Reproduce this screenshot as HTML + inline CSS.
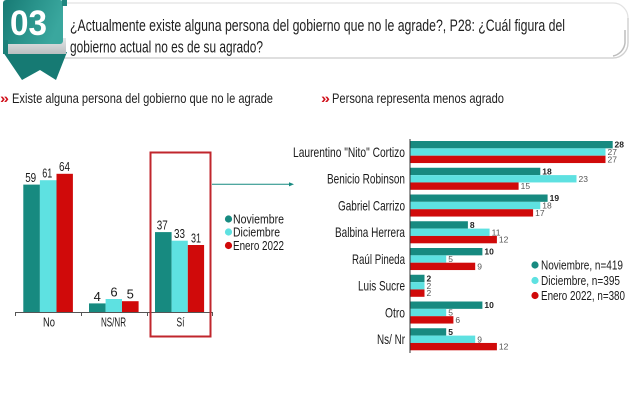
<!DOCTYPE html>
<html>
<head>
<meta charset="utf-8">
<style>
  html,body{margin:0;padding:0;background:#fff;}
  svg{display:block;}
  text{font-family:"Liberation Sans Narrow","Liberation Sans",sans-serif;}
</style>
</head>
<body>
<svg width="630" height="400" viewBox="0 0 630 400" xmlns="http://www.w3.org/2000/svg">
  <defs>
    <linearGradient id="bg1" x1="0" y1="0" x2="1" y2="0.3">
      <stop offset="0" stop-color="#177a74"/>
      <stop offset="0.55" stop-color="#2a948c"/>
      <stop offset="1" stop-color="#3aa79e"/>
    </linearGradient>
    <linearGradient id="gray1" x1="0" y1="0" x2="0" y2="1">
      <stop offset="0" stop-color="#e3e6e7"/>
      <stop offset="1" stop-color="#b9bec0"/>
    </linearGradient>
  </defs>
  <rect width="630" height="400" fill="#fff"/>

  <!-- Title box -->
  <path d="M 60 3 H 613 A 15 15 0 0 1 628 18 V 43 A 15 15 0 0 1 613 58 H 60" fill="none" stroke="#e2e2e2" stroke-width="1.2"/>
  <path d="M 60 58 H 613 A 15 15 0 0 0 628 43 V 18" fill="none" stroke="#d0d0d0" stroke-width="1.3"/>
  <path d="M 625 30 V 43 A 15 15 0 0 1 613 56" fill="none" stroke="#bdbdbd" stroke-width="1.5"/>

  <!-- Badge -->
  <polygon points="3,52 67,52 56,80 40,70 22,80" fill="#167a73"/>
  <rect x="5" y="38" width="61" height="16" fill="url(#gray1)"/>
  <rect x="3" y="0" width="60" height="44" rx="3" fill="url(#bg1)"/>
  <polygon points="62,0 67,0 67,6 62,6" fill="#1f867f"/>
  <rect x="3" y="40" width="5" height="14" fill="#1c8079"/>
  <text x="10" y="35" font-size="35" font-weight="bold" fill="#fff" textLength="37" lengthAdjust="spacingAndGlyphs">03</text>

  <!-- Title text -->
  <text x="70" y="31" font-size="17" fill="#1e1e1e" textLength="495" lengthAdjust="spacingAndGlyphs">¿Actualmente existe alguna persona del gobierno que no le agrade?, P28: ¿Cuál figura del</text>
  <text x="70" y="52.5" font-size="17" fill="#1e1e1e" textLength="193" lengthAdjust="spacingAndGlyphs">gobierno actual no es de su agrado?</text>

  <!-- Subtitles -->
  <text x="0" y="103" font-size="14" font-weight="bold" fill="#d0101b" textLength="9" lengthAdjust="spacingAndGlyphs">»</text>
  <text x="12" y="103" font-size="14" fill="#1e1e1e" textLength="261" lengthAdjust="spacingAndGlyphs">Existe alguna persona del gobierno que no le agrade</text>
  <text x="321" y="103" font-size="14" font-weight="bold" fill="#d0101b" textLength="9" lengthAdjust="spacingAndGlyphs">»</text>
  <text x="332" y="103" font-size="14" fill="#1e1e1e" textLength="172" lengthAdjust="spacingAndGlyphs">Persona representa menos agrado</text>

  <!-- LEFT CHART -->
  <g>
    <rect x="23.3" y="184.6" width="16.6" height="127.4" fill="#178a80"/>
    <rect x="39.9" y="180.2" width="16.6" height="131.8" fill="#5ee1e1"/>
    <rect x="56.5" y="173.8" width="16.4" height="138.2" fill="#d00a0a"/>
    <rect x="89" y="303.4" width="16.6" height="8.6" fill="#178a80"/>
    <rect x="105.6" y="299" width="16.4" height="13" fill="#5ee1e1"/>
    <rect x="122" y="301.2" width="16.6" height="10.8" fill="#d00a0a"/>
    <rect x="155" y="232.1" width="16.6" height="79.9" fill="#178a80"/>
    <rect x="171.6" y="240.7" width="16.2" height="71.3" fill="#5ee1e1"/>
    <rect x="187.8" y="245" width="16.3" height="67" fill="#d00a0a"/>
  </g>
  <g font-size="13" fill="#1a1a1a" text-anchor="middle">
    <text x="30.7" y="182" textLength="11" lengthAdjust="spacingAndGlyphs">59</text>
    <text x="47.3" y="177.6" textLength="10" lengthAdjust="spacingAndGlyphs">61</text>
    <text x="64.5" y="171.2" textLength="11" lengthAdjust="spacingAndGlyphs">64</text>
    <text x="97.3" y="300.8">4</text>
    <text x="114" y="296.4">6</text>
    <text x="130.3" y="298.6">5</text>
    <text x="162.3" y="229.5" textLength="11" lengthAdjust="spacingAndGlyphs">37</text>
    <text x="179.5" y="238.1" textLength="11" lengthAdjust="spacingAndGlyphs">33</text>
    <text x="196" y="242.4" textLength="10" lengthAdjust="spacingAndGlyphs">31</text>
  </g>
  <line x1="15" y1="312.5" x2="213" y2="312.5" stroke="#555" stroke-width="1"/>
  <g stroke="#555" stroke-width="1">
    <line x1="15.5" y1="312" x2="15.5" y2="316"/>
    <line x1="81.5" y1="312" x2="81.5" y2="316"/>
    <line x1="147.5" y1="312" x2="147.5" y2="316"/>
    <line x1="212.5" y1="312" x2="212.5" y2="316"/>
  </g>
  <g font-size="12.5" fill="#1a1a1a" text-anchor="middle">
    <text x="49" y="326.5" textLength="12" lengthAdjust="spacingAndGlyphs">No</text>
    <text x="113.5" y="326.5" textLength="25" lengthAdjust="spacingAndGlyphs">NS/NR</text>
    <text x="180.5" y="326.5" textLength="8" lengthAdjust="spacingAndGlyphs">Sí</text>
  </g>
  <rect x="150.5" y="152.5" width="60" height="184" fill="none" stroke="#c0262c" stroke-width="2"/>

  <!-- arrow -->
  <line x1="212" y1="184.3" x2="291" y2="184.3" stroke="#178a80" stroke-width="1"/>
  <polygon points="289,182.2 294,184.3 289,186.4" fill="#178a80"/>

  <!-- left legend -->
  <circle cx="228.5" cy="219" r="3.6" fill="#178a80"/>
  <circle cx="228.5" cy="232" r="3.6" fill="#5ee1e1"/>
  <circle cx="228.5" cy="245.5" r="3.6" fill="#d00a0a"/>
  <g font-size="13" fill="#1a1a1a">
    <text x="233" y="223.5" textLength="51" lengthAdjust="spacingAndGlyphs">Noviembre</text>
    <text x="233" y="236.5" textLength="47" lengthAdjust="spacingAndGlyphs">Diciembre</text>
    <text x="233" y="250" textLength="51" lengthAdjust="spacingAndGlyphs">Enero 2022</text>
  </g>

  <!-- RIGHT CHART -->
  <g>
    <rect x="410" y="141" width="202.7" height="7.35" fill="#178a80"/>
    <rect x="410" y="148.35" width="195.5" height="7.35" fill="#5ee1e1"/>
    <rect x="410" y="155.7" width="195.5" height="7.35" fill="#d00a0a"/>
    <rect x="410" y="167.75" width="130.3" height="7.35" fill="#178a80"/>
    <rect x="410" y="175.1" width="166.5" height="7.35" fill="#5ee1e1"/>
    <rect x="410" y="182.45" width="108.6" height="7.35" fill="#d00a0a"/>
    <rect x="410" y="194.5" width="137.6" height="7.35" fill="#178a80"/>
    <rect x="410" y="201.85" width="130.3" height="7.35" fill="#5ee1e1"/>
    <rect x="410" y="209.2" width="123.1" height="7.35" fill="#d00a0a"/>
    <rect x="410" y="221.25" width="57.9" height="7.35" fill="#178a80"/>
    <rect x="410" y="228.6" width="79.6" height="7.35" fill="#5ee1e1"/>
    <rect x="410" y="235.95" width="86.9" height="7.35" fill="#d00a0a"/>
    <rect x="410" y="248" width="72.4" height="7.35" fill="#178a80"/>
    <rect x="410" y="255.35" width="36.2" height="7.35" fill="#5ee1e1"/>
    <rect x="410" y="262.7" width="65.2" height="7.35" fill="#d00a0a"/>
    <rect x="410" y="274.75" width="14.5" height="7.35" fill="#178a80"/>
    <rect x="410" y="282.1" width="14.5" height="7.35" fill="#5ee1e1"/>
    <rect x="410" y="289.45" width="14.5" height="7.35" fill="#d00a0a"/>
    <rect x="410" y="301.5" width="72.4" height="7.35" fill="#178a80"/>
    <rect x="410" y="308.85" width="36.2" height="7.35" fill="#5ee1e1"/>
    <rect x="410" y="316.2" width="43.4" height="7.35" fill="#d00a0a"/>
    <rect x="410" y="328.25" width="36.2" height="7.35" fill="#178a80"/>
    <rect x="410" y="335.6" width="65.2" height="7.35" fill="#5ee1e1"/>
    <rect x="410" y="342.95" width="86.9" height="7.35" fill="#d00a0a"/>
  </g>
  <line x1="410" y1="139" x2="410" y2="353" stroke="#333" stroke-width="1"/>

  <!-- value labels right -->
  <g font-size="8.5" font-family="Liberation Sans, sans-serif">
    <g font-weight="bold" fill="#222">
      <text x="614.5" y="147.7">28</text>
      <text x="542.3" y="174.4">18</text>
      <text x="549.6" y="201.2">19</text>
      <text x="469.9" y="227.9">8</text>
      <text x="484.4" y="254.7">10</text>
      <text x="426.5" y="281.4">2</text>
      <text x="484.4" y="308.2">10</text>
      <text x="448.2" y="334.9">5</text>
    </g>
    <g fill="#555">
      <text x="607.5" y="155">27</text>
      <text x="578.5" y="181.8">23</text>
      <text x="542.3" y="208.5">18</text>
      <text x="491.6" y="235.3">11</text>
      <text x="448.2" y="262">5</text>
      <text x="426.5" y="288.8">2</text>
      <text x="448.2" y="315.5">5</text>
      <text x="477.2" y="342.3">9</text>
    </g>
    <g fill="#555">
      <text x="607.5" y="162.4">27</text>
      <text x="520.6" y="189.1">15</text>
      <text x="535.1" y="215.9">17</text>
      <text x="498.9" y="242.6">12</text>
      <text x="477.2" y="269.4">9</text>
      <text x="426.5" y="296.1">2</text>
      <text x="455.4" y="322.9">6</text>
      <text x="498.9" y="349.6">12</text>
    </g>
  </g>

  <!-- category labels right -->
  <g font-size="14" fill="#1a1a1a" text-anchor="end">
    <text x="405" y="156.8" textLength="112" lengthAdjust="spacingAndGlyphs">Laurentino "Nito" Cortizo</text>
    <text x="405" y="183.6" textLength="78" lengthAdjust="spacingAndGlyphs">Benicio Robinson</text>
    <text x="405" y="210.3" textLength="67" lengthAdjust="spacingAndGlyphs">Gabriel Carrizo</text>
    <text x="405" y="237.1" textLength="70" lengthAdjust="spacingAndGlyphs">Balbina Herrera</text>
    <text x="405" y="263.8" textLength="53" lengthAdjust="spacingAndGlyphs">Raúl Pineda</text>
    <text x="405" y="290.6" textLength="47" lengthAdjust="spacingAndGlyphs">Luis Sucre</text>
    <text x="405" y="317.3" textLength="20" lengthAdjust="spacingAndGlyphs">Otro</text>
    <text x="405" y="344.1" textLength="28" lengthAdjust="spacingAndGlyphs">Ns/ Nr</text>
  </g>

  <!-- right legend -->
  <circle cx="535" cy="265" r="3.6" fill="#178a80"/>
  <circle cx="535" cy="280.5" r="3.6" fill="#5ee1e1"/>
  <circle cx="535" cy="295.5" r="3.6" fill="#d00a0a"/>
  <g font-size="13" fill="#1a1a1a">
    <text x="541" y="269.5" textLength="82" lengthAdjust="spacingAndGlyphs">Noviembre, n=419</text>
    <text x="541" y="285" textLength="79" lengthAdjust="spacingAndGlyphs">Diciembre, n=395</text>
    <text x="541" y="300" textLength="84" lengthAdjust="spacingAndGlyphs">Enero 2022, n=380</text>
  </g>
</svg>
</body>
</html>
